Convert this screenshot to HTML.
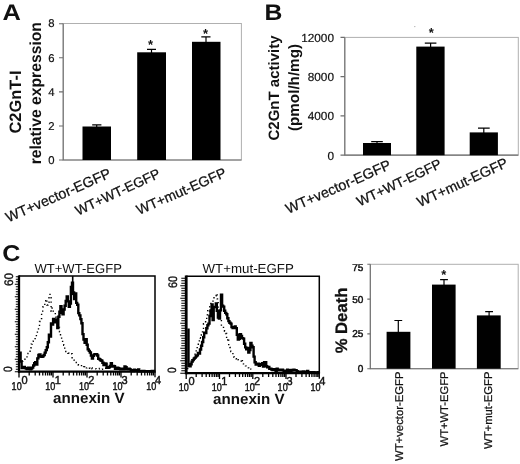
<!DOCTYPE html>
<html><head><meta charset="utf-8">
<style>
html,body{margin:0;padding:0;background:#fff;}
body{width:520px;height:464px;overflow:hidden;font-family:"Liberation Sans",sans-serif;}
svg{display:block;will-change:transform;opacity:0.999;}
text{font-family:"Liberation Sans",sans-serif;fill:#111;text-rendering:geometricPrecision;}
.b{font-weight:bold;}
.ax{stroke:#b0b0b0;stroke-width:1;fill:none;}
.ax2{stroke:#6e6e6e;stroke-width:1.1;fill:none;}
</style></head><body>
<svg width="520" height="464" viewBox="0 0 520 464">
<rect width="520" height="464" fill="#fff"/>

<!-- Panel A -->
<g transform="translate(2.5,20.3) scale(1.13,1)"><text class="b" font-size="22.5">A</text></g>
<g transform="translate(20.7,102) rotate(-90)"><text class="b" font-size="16.5" text-anchor="middle" textLength="63" lengthAdjust="spacingAndGlyphs">C2GnT-I</text></g>
<g transform="translate(41,93.2) rotate(-90)"><text class="b" font-size="16" text-anchor="middle" textLength="142.3" lengthAdjust="spacingAndGlyphs">relative expression</text></g>
<rect x="63.2" y="23.5" width="178.2" height="136.5" class="ax"/>
<path class="ax2" d="M63.2 23.5V160H241.4"/>
<path class="ax2" d="M59 23.7H63M59 57.8H63M59 91.9H63M59 126H63M59 160H63"/>
<g font-size="11.3" text-anchor="end" stroke="#111" stroke-width="0.2">
<text x="54.5" y="27.4">8</text><text x="54.5" y="61.5">6</text><text x="54.5" y="95.6">4</text><text x="54.5" y="129.7">2</text><text x="54.5" y="163.8">0</text>
</g>
<g fill="#000">
<rect x="82.5" y="126.5" width="28.5" height="33.5"/>
<rect x="137.2" y="52.3" width="28.8" height="107.7"/>
<rect x="192" y="41.8" width="28.5" height="118.2"/>
</g>
<g stroke="#000" stroke-width="1.2" fill="none">
<path d="M96.7 127V124.8M92.2 124.8H101.4"/>
<path d="M151.5 53V49.3M147 49.3H156"/>
<path d="M206 43V36.8M201.3 36.8H210.5"/>
</g>
<text x="150.6" y="49.2" font-size="13" text-anchor="middle" class="b">*</text>
<text x="205.6" y="37.5" font-size="13" text-anchor="middle" class="b">*</text>
<g transform="translate(112,177) rotate(-23.7)"><text text-anchor="end" font-size="14.3" stroke="#111" stroke-width="0.25">WT+vector-EGFP</text></g>
<g transform="translate(161.3,176.8) rotate(-25)"><text text-anchor="end" font-size="13.75" stroke="#111" stroke-width="0.25">WT+WT-EGFP</text></g>
<g transform="translate(227.3,176.3) rotate(-23.7)"><text text-anchor="end" font-size="14.05" stroke="#111" stroke-width="0.25">WT+mut-EGFP</text></g>

<!-- Panel B -->
<g transform="translate(264.5,20.3) scale(1.1,1)"><text class="b" font-size="22.5">B</text></g>
<g transform="translate(279,88) rotate(-90)"><text class="b" font-size="15" text-anchor="middle" textLength="105" lengthAdjust="spacingAndGlyphs">C2GnT activity</text></g>
<g transform="translate(298.8,87.5) rotate(-90)"><text class="b" font-size="15" text-anchor="middle" textLength="87" lengthAdjust="spacingAndGlyphs">(pmol/h/mg)</text></g>
<rect x="344.8" y="37.4" width="173.5" height="117.7" class="ax"/>
<path class="ax2" d="M344.8 37.4V155.1H518.3"/>
<path class="ax2" d="M340.5 37.4H344.8M340.5 76.6H344.8M340.5 115.9H344.8M340.5 155.1H344.8"/>
<g font-size="11.8" text-anchor="end" stroke="#111" stroke-width="0.2">
<text x="334" y="41.7">12000</text><text x="334" y="81">8000</text><text x="334" y="120.2">4000</text><text x="334" y="159.5">0</text>
</g>
<g fill="#000">
<rect x="363" y="143" width="28" height="12.2"/>
<rect x="416.3" y="46.6" width="28.3" height="108.6"/>
<rect x="469.7" y="132.4" width="28.2" height="22.8"/>
</g>
<g stroke="#000" stroke-width="1.2" fill="none">
<path d="M377 143.5V141.6M371.2 141.6H382.8"/>
<path d="M430.6 47V43.2M424.8 43.2H436.4"/>
<path d="M483.8 133V128.1M478 128.1H489.7"/>
</g>
<text x="431.2" y="37.1" font-size="13" text-anchor="middle" class="b">*</text>
<g transform="translate(392,168.5) rotate(-23.7)"><text text-anchor="end" font-size="14.3" stroke="#111" stroke-width="0.25">WT+vector-EGFP</text></g>
<g transform="translate(442.6,167.2) rotate(-25.3)"><text text-anchor="end" font-size="13.75" stroke="#111" stroke-width="0.25">WT+WT-EGFP</text></g>
<g transform="translate(509,166.3) rotate(-24.7)"><text text-anchor="end" font-size="14.3" stroke="#111" stroke-width="0.25">WT+mut-EGFP</text></g>

<circle cx="414.8" cy="26.6" r="0.7" fill="#aaa"/>

<!-- Panel C -->
<g transform="translate(2.3,261.3) scale(1.1,1)"><text class="b" font-size="22.8">C</text></g>
<text x="34.4" y="272.8" font-size="13.2" fill="#2e2e2e" textLength="87.5" lengthAdjust="spacingAndGlyphs">WT+WT-EGFP</text>
<path d="M19 276.1H155V371.7" stroke="#000" stroke-width="1.5" fill="none"/>
<path d="M19 275.35V372.7" stroke="#000" stroke-width="2.3" fill="none"/>
<path d="M18 371.7H155.75" stroke="#000" stroke-width="2.3" fill="none"/>
<path d="M19.0 371.7v5.7M29.2 371.7v3.8M35.2 371.7v3.8M39.5 371.7v3.8M42.8 371.7v3.8M45.5 371.7v3.8M47.7 371.7v3.8M49.7 371.7v3.8M51.4 371.7v3.8M53.0 371.7v5.7M63.2 371.7v3.8M69.2 371.7v3.8M73.5 371.7v3.8M76.8 371.7v3.8M79.5 371.7v3.8M81.7 371.7v3.8M83.7 371.7v3.8M85.4 371.7v3.8M87.0 371.7v5.7M97.2 371.7v3.8M103.2 371.7v3.8M107.5 371.7v3.8M110.8 371.7v3.8M113.5 371.7v3.8M115.7 371.7v3.8M117.7 371.7v3.8M119.4 371.7v3.8M121.0 371.7v5.7M131.2 371.7v3.8M137.2 371.7v3.8M141.5 371.7v3.8M144.8 371.7v3.8M147.5 371.7v3.8M149.7 371.7v3.8M151.7 371.7v3.8M153.4 371.7v3.8M155.0 371.7v5.5" stroke="#000" stroke-width="1.3" fill="none"/>
<path d="M19 371.7h-4.2M19 369.2h-3.2M19 366.7h-3.2M19 364.2h-3.2M19 361.7h-3.2M19 359.2h-4.2M19 356.7h-3.2M19 354.2h-3.2M19 351.7h-3.2M19 349.2h-3.2M19 346.7h-4.2M19 344.2h-3.2M19 341.7h-3.2M19 339.2h-3.2M19 336.7h-3.2M19 334.2h-4.2M19 331.7h-3.2M19 329.2h-3.2M19 326.7h-3.2M19 324.2h-3.2M19 321.7h-4.2M19 319.2h-3.2M19 316.7h-3.2M19 314.2h-3.2M19 311.7h-3.2M19 309.2h-4.2M19 306.7h-3.2M19 304.2h-3.2M19 301.7h-3.2M19 299.2h-3.2M19 296.7h-4.2M19 294.2h-3.2M19 291.7h-3.2M19 289.2h-3.2M19 286.7h-3.2M19 284.2h-4.2M19 281.7h-3.2M19 279.2h-3.2M19 276.7h-3.2" stroke="#000" stroke-width="1.15" fill="none"/>
<path d="M21.7 361.1H22.8V361.0H23.8V359.4H24.9V358.0H25.9V358.0H27.0V356.0H28.0V353.4H29.1V352.8H30.1V347.7H31.2V344.1H32.2V341.4H33.2V339.7H34.3V338.6H35.3V336.2H36.4V333.1H37.4V330.7H38.5V327.1H39.5V321.5H40.6V318.6H41.6V313.3H42.7V307.0H43.7V305.7H44.8V300.8H45.8V299.4H46.9V305.0H47.9V302.3H49.0V296.8H50.0V294.4H51.1V311.2H52.1V308.0H53.2V311.1H54.2V312.4H55.3V317.3H56.3V322.5H57.4V324.3H58.4V327.5H59.5V331.8H60.5V335.6H61.6V340.7H62.6V344.6H63.7V345.2H64.7V350.5H65.8V351.5H66.8V352.3H67.9V353.2H68.9V354.0H70.0V354.0H71.0V353.7H72.1V358.7H73.1V359.0H74.2V360.3H75.2V362.4H76.3V362.5H77.3V363.0H78.4V365.2H79.4V365.8H80.5V365.6H81.5V366.8H82.6V367.0H83.6V366.7H84.7V368.4H85.7V367.9H86.8V367.4H87.8V368.2H88.9V368.2H89.9V368.6H91.0V367.8H92.0V368.9H93.1V369.0H94.1V368.9H95.2V368.9H96.2V369.2H97.3V369.0H98.3V368.9H99.4V368.5H100.4V369.3H101.5V369.3H102.5V369.1H103.6V369.1H104.6V369.3H105.7V368.2H106.7V369.2H107.8V368.3H108.8V369.3H109.9V369.6" stroke="#000" stroke-width="1.4" stroke-dasharray="1.3 3.1" fill="none"/>
<path d="M19.5 352.8H20.6V361.5H21.6V368.0H22.7V367.5H23.7V367.0H24.8V368.1H25.8V368.6H26.9V369.1H27.9V367.6H29.0V367.7H30.0V369.2H31.1V368.5H32.1V367.6H33.2V365.5H34.2V363.3H35.2V362.1H36.3V364.5H37.3V358.4H38.4V355.0H39.4V354.4H40.5V356.5H41.5V356.8H42.6V356.3H43.6V355.0H44.7V352.6H45.7V350.1H46.8V347.3H47.8V342.2H48.9V334.8H49.9V336.6H51.0V323.5H52.0V324.6H53.1V319.0H54.1V322.2H55.2V319.4H56.2V321.4H57.3V328.1H58.3V316.8H59.4V311.8H60.4V306.1H61.5V312.8H62.5V314.4H63.6V309.5H64.6V305.7H65.7V300.9H66.7V296.4H67.8V301.4H68.8V306.7H69.9V303.5H70.9V287.0H72.0V282.8H73.0V292.4H74.1V299.1H75.1V293.5H76.2V302.9H77.2V304.7H78.3V313.1H79.3V315.4H80.4V319.1H81.4V323.2H82.5V334.1H83.5V339.6H84.6V342.9H85.6V339.2H86.7V344.7H87.7V349.4H88.8V350.9H89.8V352.5H90.9V355.5H91.9V358.6H93.0V355.8H94.0V354.4H95.1V354.3H96.1V354.2H97.2V355.5H98.2V358.7H99.3V359.3H100.3V360.2H101.4V360.7H102.4V362.7H103.5V365.0H104.5V363.4H105.6V363.7H106.6V367.8H107.7V367.9H108.7V367.3H109.8V366.0H110.8V363.2H111.9V366.6H112.9V365.9H114.0V366.3H115.0V368.8H116.1V368.7H117.1V367.8H118.2V368.3H119.2V368.7H120.3V369.3H121.3V369.1H122.4V368.7H123.4V369.3H124.5V366.5H125.5V367.3H126.6V369.0H127.6V369.3H128.7V368.7H129.7V369.4H130.8V370.2H131.8V370.5H132.9V371.0H133.9V369.8H135.0V370.3H136.0V370.6H137.1V370.2H138.1V369.5H139.2V371.2H140.2V371.2H141.3V371.2H142.3V370.9H143.4V371.0H144.4V371.2H145.5V371.2H146.5V371.2H147.6V371.2H148.6V371.2H149.7V371.1H150.8V371.2H151.8V371.0H152.9V371.0H153.9V371.2" stroke="#000" stroke-width="2.4" stroke-linejoin="miter" fill="none"/>
<path d="M72.7 276.1V295.1" stroke="#000" stroke-width="1.6" fill="none"/>
<g transform="translate(11.6,389.5) scale(0.8,1)"><text font-size="11.3" stroke="#111" stroke-width="0.45">10</text></g>
<g transform="translate(21.4,383.6) scale(0.95,1)"><text font-size="11.6" stroke="#111" stroke-width="0.45">0</text></g>
<g transform="translate(45.2,389.5) scale(0.8,1)"><text font-size="11.3" stroke="#111" stroke-width="0.45">10</text></g>
<g transform="translate(54.8,383.6) scale(0.95,1)"><text font-size="11.6" stroke="#111" stroke-width="0.45">1</text></g>
<g transform="translate(78.9,389.5) scale(0.8,1)"><text font-size="11.3" stroke="#111" stroke-width="0.45">10</text></g>
<g transform="translate(88.2,383.6) scale(0.95,1)"><text font-size="11.6" stroke="#111" stroke-width="0.45">2</text></g>
<g transform="translate(112.5,389.5) scale(0.8,1)"><text font-size="11.3" stroke="#111" stroke-width="0.45">10</text></g>
<g transform="translate(121.6,383.6) scale(0.95,1)"><text font-size="11.6" stroke="#111" stroke-width="0.45">3</text></g>
<g transform="translate(146.2,389.5) scale(0.8,1)"><text font-size="11.3" stroke="#111" stroke-width="0.45">10</text></g>
<g transform="translate(155.0,383.6) scale(0.95,1)"><text font-size="11.6" stroke="#111" stroke-width="0.45">4</text></g>
<text x="53.1" y="402.7" class="b" font-size="15" textLength="71.5" lengthAdjust="spacingAndGlyphs">annexin V</text>
<g transform="translate(13,279.6) rotate(-90)"><text font-size="12.4" text-anchor="middle" textLength="13" lengthAdjust="spacingAndGlyphs" stroke="#111" stroke-width="0.35">60</text></g>
<g transform="translate(12,369.2) rotate(-90) scale(0.85,1)"><text font-size="12" text-anchor="middle" stroke="#111" stroke-width="0.35">0</text></g>
<text x="202.5" y="272.8" font-size="13.2" fill="#2e2e2e" textLength="91.3" lengthAdjust="spacingAndGlyphs">WT+mut-EGFP</text>
<path d="M186.2 276.2H319.3V373.2" stroke="#000" stroke-width="1.5" fill="none"/>
<path d="M186.2 275.45V374.2" stroke="#000" stroke-width="2.8" fill="none"/>
<path d="M185.2 373.2H320.05" stroke="#000" stroke-width="2.3" fill="none"/>
<path d="M186.2 373.2v5.7M196.2 373.2v3.8M202.1 373.2v3.8M206.2 373.2v3.8M209.5 373.2v3.8M212.1 373.2v3.8M214.3 373.2v3.8M216.3 373.2v3.8M218.0 373.2v3.8M219.5 373.2v5.7M229.5 373.2v3.8M235.4 373.2v3.8M239.5 373.2v3.8M242.7 373.2v3.8M245.4 373.2v3.8M247.6 373.2v3.8M249.5 373.2v3.8M251.2 373.2v3.8M252.8 373.2v5.7M262.8 373.2v3.8M268.6 373.2v3.8M272.8 373.2v3.8M276.0 373.2v3.8M278.6 373.2v3.8M280.9 373.2v3.8M282.8 373.2v3.8M284.5 373.2v3.8M286.0 373.2v5.7M296.0 373.2v3.8M301.9 373.2v3.8M306.1 373.2v3.8M309.3 373.2v3.8M311.9 373.2v3.8M314.1 373.2v3.8M316.1 373.2v3.8M317.8 373.2v3.8M319.3 373.2v5.5" stroke="#000" stroke-width="1.3" fill="none"/>
<path d="M186.2 373.2h-5.9M186.2 370.7h-4.9M186.2 368.2h-4.9M186.2 365.7h-4.9M186.2 363.2h-4.9M186.2 360.7h-5.9M186.2 358.2h-4.9M186.2 355.7h-4.9M186.2 353.2h-4.9M186.2 350.7h-4.9M186.2 348.2h-5.9M186.2 345.7h-4.9M186.2 343.2h-4.9M186.2 340.7h-4.9M186.2 338.2h-4.9M186.2 335.7h-5.9M186.2 333.2h-4.9M186.2 330.7h-4.9M186.2 328.2h-4.9M186.2 325.7h-4.9M186.2 323.2h-5.9M186.2 320.7h-4.9M186.2 318.2h-4.9M186.2 315.7h-4.9M186.2 313.2h-4.9M186.2 310.7h-5.9M186.2 308.2h-4.9M186.2 305.7h-4.9M186.2 303.2h-4.9M186.2 300.7h-4.9M186.2 298.2h-5.9M186.2 295.7h-4.9M186.2 293.2h-4.9M186.2 290.7h-4.9M186.2 288.2h-4.9M186.2 285.7h-5.9M186.2 283.2h-4.9M186.2 280.7h-4.9M186.2 278.2h-4.9" stroke="#000" stroke-width="1.15" fill="none"/>
<path d="M186.7 368.5H187.8V365.6H188.8V365.5H189.9V364.8H190.9V360.8H192.0V359.6H193.0V357.8H194.1V355.0H195.1V352.2H196.2V349.8H197.2V345.3H198.3V340.9H199.3V337.8H200.4V338.3H201.4V334.8H202.5V330.9H203.5V323.8H204.6V323.7H205.6V320.5H206.7V314.7H207.7V310.8H208.8V312.2H209.8V306.7H210.9V303.4H211.9V302.0H213.0V298.9H214.0V296.1H215.1V295.7H216.1V293.5H217.2V298.9H218.2V312.5H219.3V312.1H220.3V318.1H221.4V325.9H222.4V326.7H223.5V329.5H224.5V331.2H225.6V333.5H226.6V340.3H227.7V338.3H228.7V345.5H229.8V347.5H230.8V351.6H231.9V352.5H232.9V356.6H234.0V357.3H235.0V358.0H236.1V358.8H237.1V357.9H238.2V359.9H239.2V360.9H240.3V361.1H241.3V359.3H242.4V362.7H243.4V363.9H244.5V364.1H245.5V365.9H246.6V367.6H247.6V367.9H248.7V369.5H249.7V369.1H250.8V369.6" stroke="#000" stroke-width="1.4" stroke-dasharray="1.3 3.1" fill="none"/>
<path d="M187.4 329.7H188.5V366.0H189.5V366.4H190.6V364.3H191.6V361.6H192.7V360.1H193.7V358.6H194.8V357.6H195.8V356.3H196.9V355.4H197.9V353.0H199.0V353.5H200.0V349.5H201.1V345.8H202.1V342.0H203.2V337.2H204.2V332.6H205.3V333.0H206.3V328.2H207.4V325.2H208.4V323.6H209.5V316.0H210.5V310.5H211.6V304.5H212.6V320.1H213.7V306.9H214.7V307.1H215.8V303.5H216.8V310.7H217.9V317.5H218.9V318.6H220.0V310.4H221.0V294.7H222.1V305.6H223.1V306.6H224.2V310.7H225.2V312.9H226.3V314.2H227.3V318.2H228.4V321.1H229.4V322.8H230.5V323.6H231.5V327.1H232.6V328.0H233.6V327.5H234.7V326.5H235.7V328.1H236.8V334.8H237.8V339.6H238.9V338.9H239.9V334.3H241.0V335.9H242.0V338.1H243.1V338.6H244.1V343.8H245.2V347.4H246.2V349.2H247.3V348.0H248.3V352.5H249.4V350.1H250.4V343.0H251.5V345.6H252.5V347.2H253.6V356.6H254.6V362.3H255.7V364.6H256.7V363.7H257.8V363.6H258.8V365.9H259.9V364.8H260.9V364.1H262.0V363.3H263.0V366.6H264.1V362.1H265.1V362.2H266.2V366.2H267.2V367.4H268.3V366.9H269.3V368.9H270.4V368.6H271.4V369.5H272.5V370.1H273.5V369.3H274.6V369.7H275.6V371.1H276.7V368.8H277.7V369.8H278.8V370.3H279.8V369.8H280.9V370.3H281.9V369.6H283.0V370.6H284.0V371.0H285.1V371.3H286.1V370.8H287.2V369.8H288.2V370.2H289.3V372.4H290.3V371.9H291.4V370.0H292.4V370.5H293.5V369.8H294.5V370.4H295.6V370.2H296.6V371.3H297.7V371.6H298.7V371.8H299.8V372.4H300.8V372.1H301.9V371.6H302.9V371.5H304.0V371.8H305.0V372.3H306.1V372.0H307.1V371.0H308.2V372.2H309.2V372.2H310.3V372.1H311.3V372.7H312.4V372.5H313.4V372.2H314.5V372.4H315.5V372.6H316.6V372.7H317.6V372.3H318.7V372.6" stroke="#000" stroke-width="2.4" stroke-linejoin="miter" fill="none"/>
<g transform="translate(178.8,390.9) scale(0.8,1)"><text font-size="11.3" stroke="#111" stroke-width="0.45">10</text></g>
<g transform="translate(188.6,385.0) scale(0.95,1)"><text font-size="11.6" stroke="#111" stroke-width="0.45">0</text></g>
<g transform="translate(211.7,390.9) scale(0.8,1)"><text font-size="11.3" stroke="#111" stroke-width="0.45">10</text></g>
<g transform="translate(221.3,385.0) scale(0.95,1)"><text font-size="11.6" stroke="#111" stroke-width="0.45">1</text></g>
<g transform="translate(244.7,390.9) scale(0.8,1)"><text font-size="11.3" stroke="#111" stroke-width="0.45">10</text></g>
<g transform="translate(253.9,385.0) scale(0.95,1)"><text font-size="11.6" stroke="#111" stroke-width="0.45">2</text></g>
<g transform="translate(277.6,390.9) scale(0.8,1)"><text font-size="11.3" stroke="#111" stroke-width="0.45">10</text></g>
<g transform="translate(286.6,385.0) scale(0.95,1)"><text font-size="11.6" stroke="#111" stroke-width="0.45">3</text></g>
<g transform="translate(310.5,390.9) scale(0.8,1)"><text font-size="11.3" stroke="#111" stroke-width="0.45">10</text></g>
<g transform="translate(319.3,385.0) scale(0.95,1)"><text font-size="11.6" stroke="#111" stroke-width="0.45">4</text></g>
<text x="213.1" y="404" class="b" font-size="15" textLength="71.5" lengthAdjust="spacingAndGlyphs">annexin V</text>
<g transform="translate(177,282) rotate(-90)"><text font-size="12.4" text-anchor="middle" textLength="12" lengthAdjust="spacingAndGlyphs" stroke="#111" stroke-width="0.35">60</text></g>
<g transform="translate(176,370.1) rotate(-90) scale(0.85,1)"><text font-size="12" text-anchor="middle" stroke="#111" stroke-width="0.35">0</text></g>

<g transform="translate(347.4,320.5) rotate(-90)"><text class="b" font-size="16.6" text-anchor="middle" textLength="65.7" lengthAdjust="spacingAndGlyphs" stroke="#111" stroke-width="0.3">% Death</text></g>
<rect x="370.3" y="264.3" width="147.9" height="104.4" class="ax"/>
<path class="ax2" d="M370.3 264.3V368.7H518.2"/>
<path class="ax2" d="M367.3 264.3H370.3M367.3 299.1H370.3M367.3 333.9H370.3M367.3 368.7H370.3"/>
<g font-size="10" text-anchor="end" stroke="#111" stroke-width="0.45">
<text x="363.3" y="271.1">75</text><text x="363.3" y="302.5">50</text><text x="363.3" y="337.2">25</text><text x="363.3" y="371.9">0</text>
</g>
<g fill="#000">
<rect x="386.6" y="331.8" width="23.8" height="36.9"/>
<rect x="432" y="284.6" width="23.6" height="84.1"/>
<rect x="476.9" y="315.4" width="23.8" height="53.3"/>
</g>
<g stroke="#000" stroke-width="1.2" fill="none">
<path d="M398.3 332V320.5M394.4 320.5H402.2"/>
<path d="M444 285.5V279.6M440.1 279.6H447.9"/>
<path d="M489.1 316V311.7M485.2 311.7H493"/>
</g>
<text x="443.8" y="278.7" font-size="13" text-anchor="middle" class="b">*</text>
<g transform="translate(403.4,371.5) rotate(-90)"><text text-anchor="end" font-size="11.3" stroke="#111" stroke-width="0.25">WT+vector-EGFP</text></g>
<g transform="translate(447.9,371.5) rotate(-90)"><text text-anchor="end" font-size="11.2" stroke="#111" stroke-width="0.25">WT+WT-EGFP</text></g>
<g transform="translate(491.9,371.5) rotate(-90)"><text text-anchor="end" font-size="11.3" stroke="#111" stroke-width="0.25">WT+mut-EGFP</text></g>
</svg>
</body></html>
